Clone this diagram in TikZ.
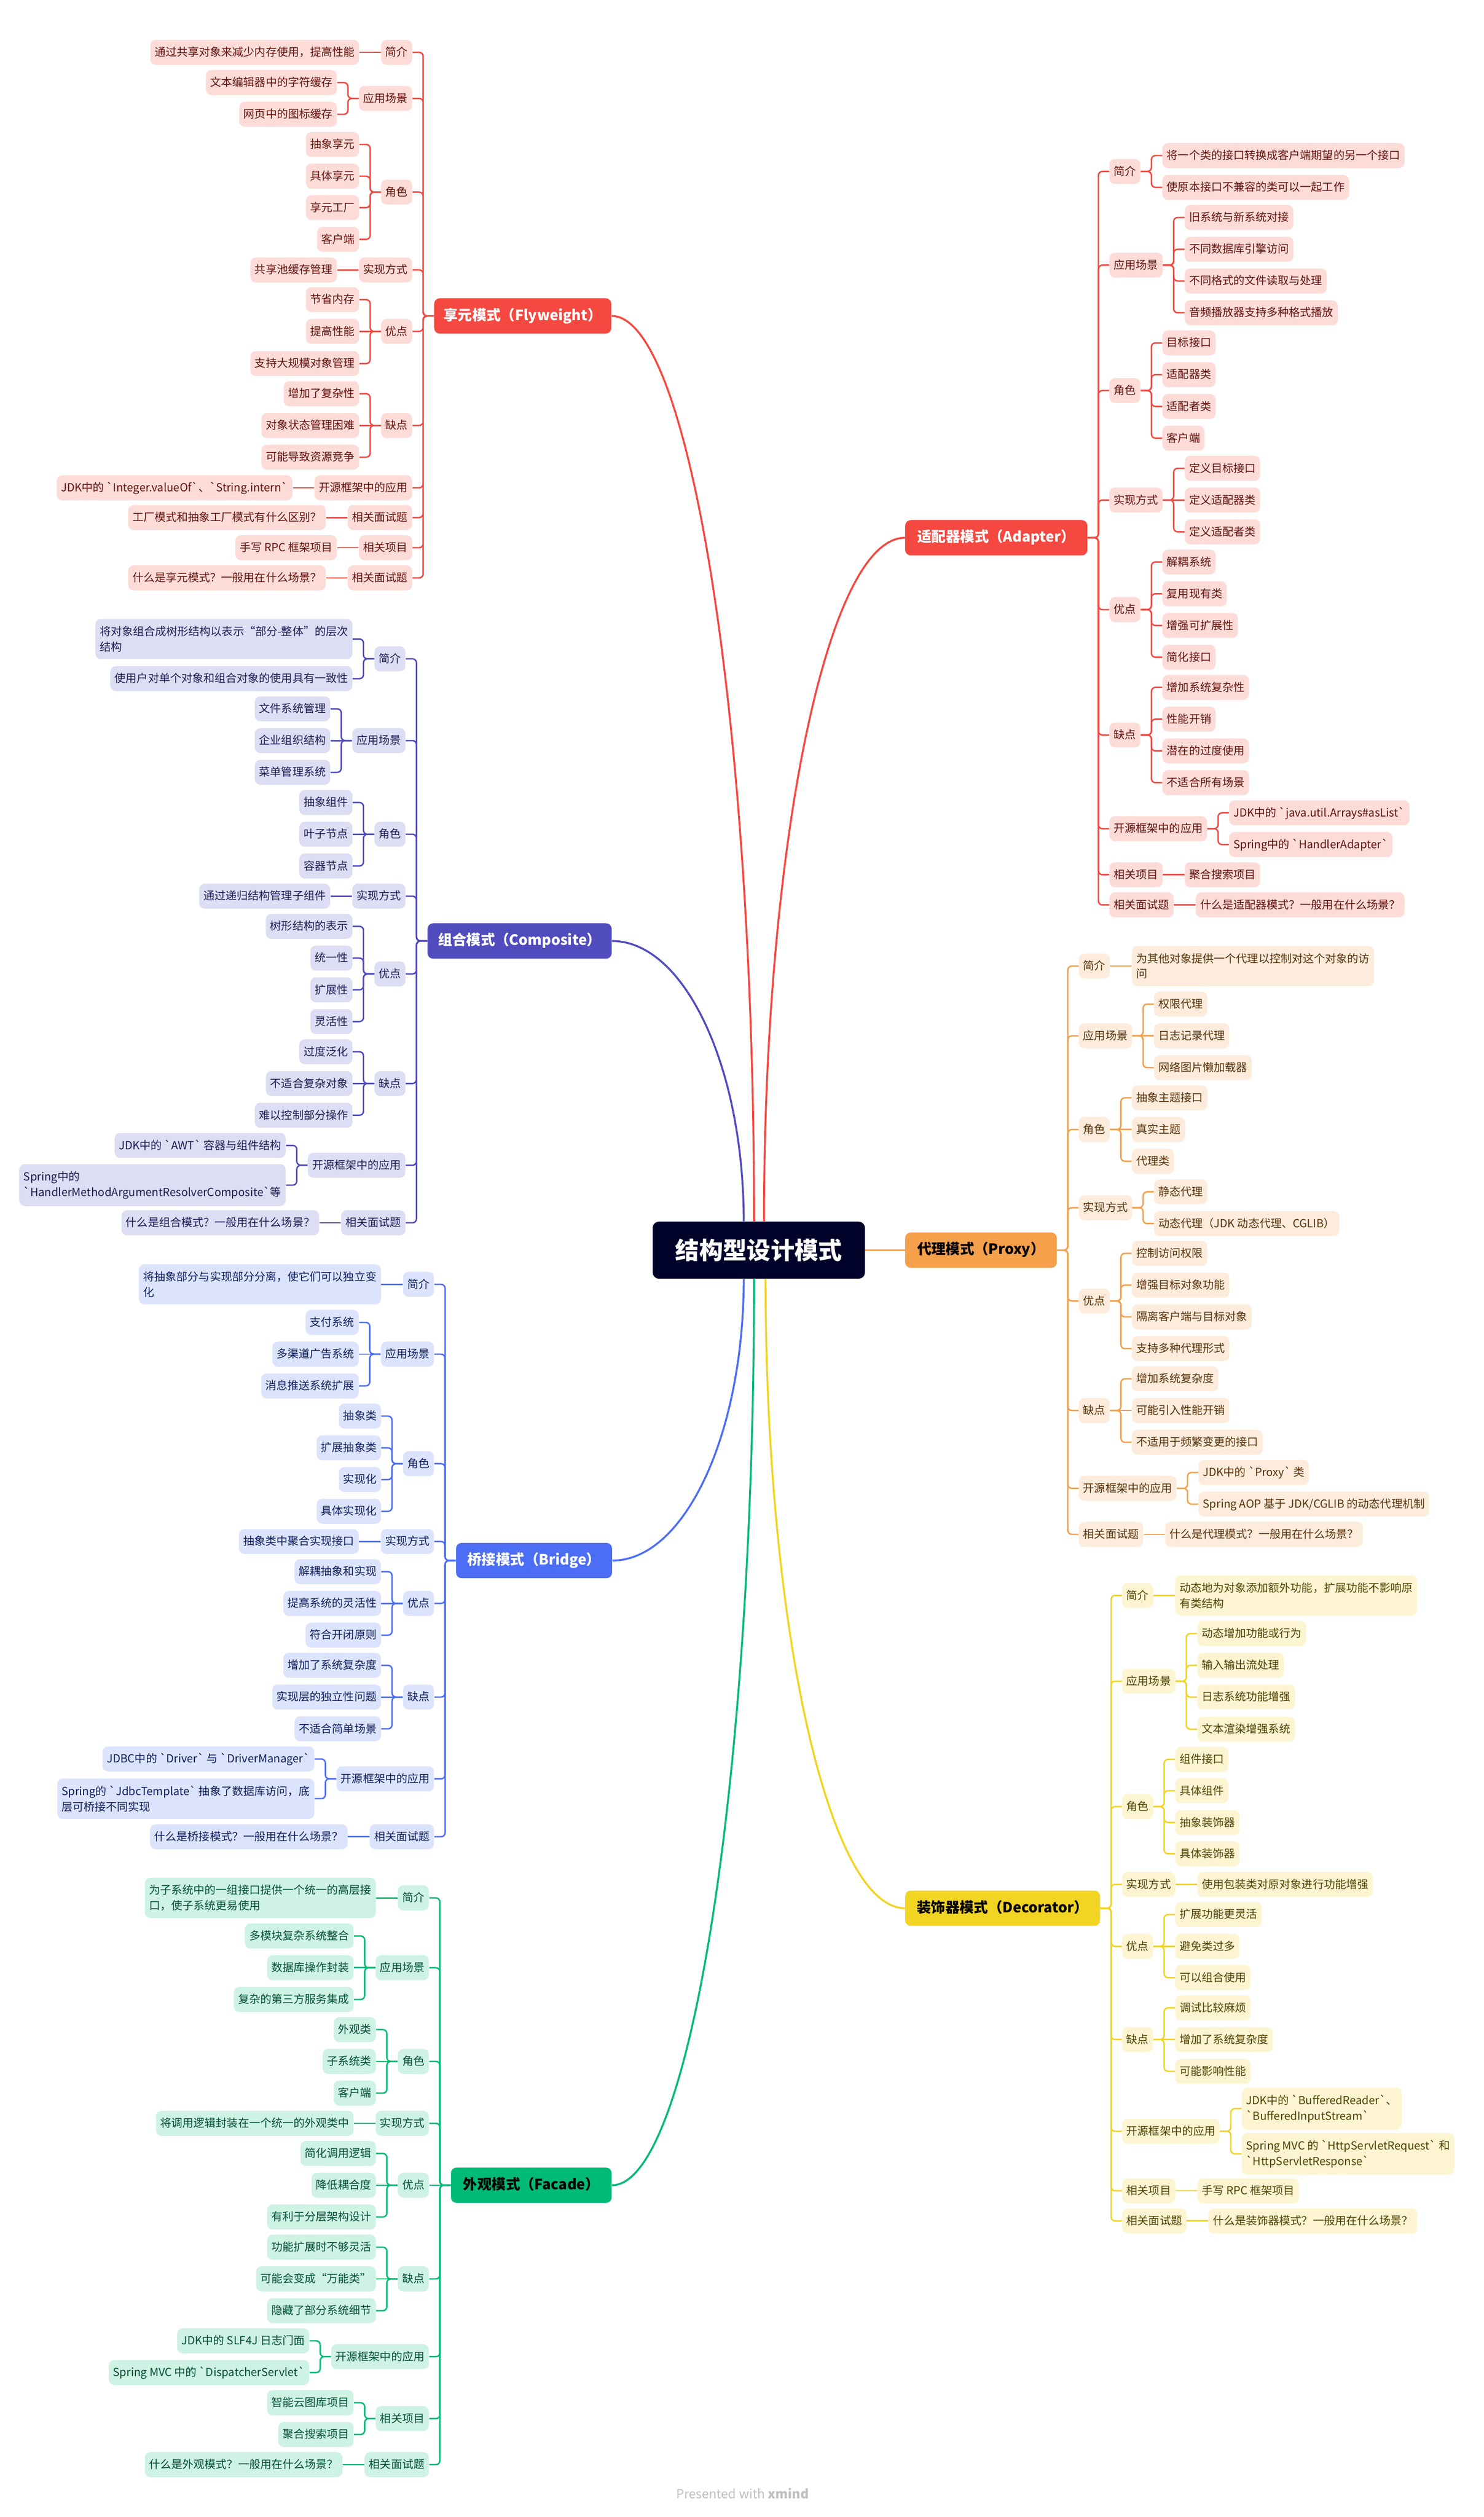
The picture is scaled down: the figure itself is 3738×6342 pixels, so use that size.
\documentclass[tikz,border=0pt]{standalone}
\usepackage{fontspec}
\setmainfont{Noto Sans CJK SC}[Ligatures=TeXOff]
\usetikzlibrary{calc}

\definecolor{rootbg}{RGB}{0,2,42}
\definecolor{redln}{RGB}{245,72,64}
\definecolor{redbg}{RGB}{253,220,216}
\definecolor{redtx}{RGB}{100,18,12}
\definecolor{purln}{RGB}{80,76,190}
\definecolor{purbg}{RGB}{221,221,244}
\definecolor{purtx}{RGB}{30,28,85}
\definecolor{bluln}{RGB}{76,110,245}
\definecolor{blubg}{RGB}{220,228,253}
\definecolor{blutx}{RGB}{15,30,95}
\definecolor{grnln}{RGB}{0,186,117}
\definecolor{grnbg}{RGB}{206,242,228}
\definecolor{grntx}{RGB}{0,80,50}
\definecolor{orgln}{RGB}{245,160,75}
\definecolor{orgbg}{RGB}{253,236,220}
\definecolor{orgtx}{RGB}{90,50,10}
\definecolor{yelln}{RGB}{242,212,34}
\definecolor{yelbg}{RGB}{253,245,210}
\definecolor{yeltx}{RGB}{80,65,0}
\colorlet{kidbg}{redbg}\colorlet{kidtx}{redtx}\colorlet{kidln}{redln}

\tikzset{
  box/.style={rounded corners=3.5pt, fill=kidbg, text=kidtx,
    font=\fontsize{7}{9.75}\selectfont, minimum height=15.75pt,
    inner xsep=2.75pt, inner ysep=0pt, text height=6.1pt, text depth=1.2pt},
  boxw/.style={box, align=left, text height=, text depth=, inner ysep=4.5pt},
  link/.style={draw=kidln, line width=0.9pt, rounded corners=2.5pt},
  topic/.style={rounded corners=3.5pt, font=\bfseries\fontsize{9}{11}\selectfont,
    minimum height=22.25pt, inner xsep=6pt, text height=7pt, text depth=1.6pt},
  rootbox/.style={rounded corners=4pt, fill=rootbg, text=white,
    font=\bfseries\fontsize{15}{18}\selectfont, minimum width=133.75pt,
    minimum height=36pt},
  trunk/.style={line width=1.2pt},
}

% child to the left / right of its parent
\newcommand\lkid[5][box]{%
  \coordinate (yy) at (0,#4);
  \path (#2.west) ++(-54,0) coordinate (xx);
  \node[#1,anchor=east] (#3) at (xx |- yy) {#5};
  \draw[link] (#2.west) -- ++(-27,0) |- (#3.east);}
\newcommand\rkid[5][box]{%
  \coordinate (yy) at (0,#4);
  \path (#2.east) ++(54,0) coordinate (xx);
  \node[#1,anchor=west] (#3) at (xx |- yy) {#5};
  \draw[link] (#2.east) -- ++(27,0) |- (#3.west);}
% child on the same level as its parent
\newcommand\lsame[4][box]{%
  \node[#1,anchor=east] (#3) at ([xshift=-13.5pt]#2.west) {#4};
  \draw[link] (#2.west) -- (#3.east);}
\newcommand\rsame[4][box]{%
  \node[#1,anchor=west] (#3) at ([xshift=13.5pt]#2.east) {#4};
  \draw[link] (#2.east) -- (#3.west);}
% curve from the root to a topic
\newcommand\mcurve[3]{%
  \draw[trunk,draw=#3] (#1) .. controls ($(#1)!0.55!(#1 |- #2)$)
    and ($(#2)!0.55!(#1 |- #2)$) .. (#2);}

\begin{document}
\begin{tikzpicture}[x=0.25pt,y=-0.25pt]
\fill[white] (0,0) rectangle (3738,6342);
\useasboundingbox (0,0) rectangle (3738,6342);

\node[rootbox] (root) at (1912,3150) {结构型设计模式};
\path (root.north) ++(-38,0) coordinate (sCp) ++(26,0) coordinate (sFw) ++(25,0) coordinate (sAd);
\path (root.south) ++(-38,0) coordinate (sBr) ++(26,0) coordinate (sFc) ++(29,0) coordinate (sDc);

% Flyweight
\begin{scope}
\colorlet{kidbg}{redbg}\colorlet{kidtx}{redtx}\colorlet{kidln}{redln}
\node[topic,fill=redln,text=white,minimum width=111.25pt,anchor=east] (fw) at (1541,796) {享元模式（Flyweight）};
\lkid{fw}{fw1}{132}{简介}
\lsame{fw1}{fw11}{通过共享对象来减少内存使用，提高性能}
\lkid{fw}{fw2}{248}{应用场景}
\lkid{fw2}{fw21}{208}{文本编辑器中的字符缓存}
\lkid{fw2}{fw22}{288}{网页中的图标缓存}
\lkid{fw}{fw3}{484}{角色}
\lkid{fw3}{fw31}{364}{抽象享元}
\lkid{fw3}{fw32}{444}{具体享元}
\lkid{fw3}{fw33}{523}{享元工厂}
\lkid{fw3}{fw34}{603}{客户端}
\lkid{fw}{fw4}{680}{实现方式}
\lsame{fw4}{fw41}{共享池缓存管理}
\lkid{fw}{fw5}{835}{优点}
\lkid{fw5}{fw51}{755}{节省内存}
\lsame{fw5}{fw52}{提高性能}
\lkid{fw5}{fw53}{916}{支持大规模对象管理}
\lkid{fw}{fw6}{1072}{缺点}
\lkid{fw6}{fw61}{992}{增加了复杂性}
\lsame{fw6}{fw62}{对象状态管理困难}
\lkid{fw6}{fw63}{1152}{可能导致资源竞争}
\lkid{fw}{fw7}{1229}{开源框架中的应用}
\lsame{fw7}{fw71}{JDK中的 `Integer.valueOf`、`String.intern`}
\lkid{fw}{fw8}{1304}{相关面试题}
\lsame{fw8}{fw81}{工厂模式和抽象工厂模式有什么区别？}
\lkid{fw}{fw9}{1380}{相关项目}
\lsame{fw9}{fw91}{手写 RPC 框架项目}
\lkid{fw}{fw10}{1456}{相关面试题}
\lsame{fw10}{fw101}{什么是享元模式？一般用在什么场景？}
\end{scope}

% Composite
\begin{scope}
\colorlet{kidbg}{purbg}\colorlet{kidtx}{purtx}\colorlet{kidln}{purln}
\node[topic,fill=purln,text=white,minimum width=116pt,anchor=east] (cp) at (1542,2371) {组合模式（Composite）};
\lkid{cp}{cp1}{1660}{简介}
\lkid[boxw]{cp1}{cp11}{1610}{将对象组合成树形结构以表示“部分-整体”的层次\\结构}
\lkid{cp1}{cp12}{1710}{使用户对单个对象和组合对象的使用具有一致性}
\lkid{cp}{cp2}{1866}{应用场景}
\lkid{cp2}{cp21}{1786}{文件系统管理}
\lsame{cp2}{cp22}{企业组织结构}
\lkid{cp2}{cp23}{1946}{菜单管理系统}
\lkid{cp}{cp3}{2102}{角色}
\lkid{cp3}{cp31}{2022}{抽象组件}
\lsame{cp3}{cp32}{叶子节点}
\lkid{cp3}{cp33}{2182}{容器节点}
\lkid{cp}{cp4}{2258}{实现方式}
\lsame{cp4}{cp41}{通过递归结构管理子组件}
\lkid{cp}{cp5}{2454}{优点}
\lkid{cp5}{cp51}{2334}{树形结构的表示}
\lkid{cp5}{cp52}{2414}{统一性}
\lkid{cp5}{cp53}{2494}{扩展性}
\lkid{cp5}{cp54}{2574}{灵活性}
\lkid{cp}{cp6}{2730}{缺点}
\lkid{cp6}{cp61}{2650}{过度泛化}
\lsame{cp6}{cp62}{不适合复杂对象}
\lkid{cp6}{cp63}{2810}{难以控制部分操作}
\lkid{cp}{cp7}{2936}{开源框架中的应用}
\lkid{cp7}{cp71}{2886}{JDK中的 `AWT` 容器与组件结构}
\lkid[boxw]{cp7}{cp72}{2986}{Spring中的\\`HandlerMethodArgumentResolverComposite`等}
\lkid{cp}{cp8}{3081}{相关面试题}
\lsame{cp8}{cp81}{什么是组合模式？一般用在什么场景？}
\end{scope}

% Bridge
\begin{scope}
\colorlet{kidbg}{blubg}\colorlet{kidtx}{blutx}\colorlet{kidln}{bluln}
\node[topic,fill=bluln,text=white,minimum width=98.25pt,anchor=east] (br) at (1543,3932) {桥接模式（Bridge）};
\lkid{br}{br1}{3236}{简介}
\lsame[boxw]{br1}{br11}{将抽象部分与实现部分分离，使它们可以独立变\\化}
\lkid{br}{br2}{3412}{应用场景}
\lkid{br2}{br21}{3332}{支付系统}
\lsame{br2}{br22}{多渠道广告系统}
\lkid{br2}{br23}{3492}{消息推送系统扩展}
\lkid{br}{br3}{3688}{角色}
\lkid{br3}{br31}{3568}{抽象类}
\lkid{br3}{br32}{3648}{扩展抽象类}
\lkid{br3}{br33}{3728}{实现化}
\lkid{br3}{br34}{3808}{具体实现化}
\lkid{br}{br4}{3884}{实现方式}
\lsame{br4}{br41}{抽象类中聚合实现接口}
\lkid{br}{br5}{4040}{优点}
\lkid{br5}{br51}{3960}{解耦抽象和实现}
\lsame{br5}{br52}{提高系统的灵活性}
\lkid{br5}{br53}{4120}{符合开闭原则}
\lkid{br}{br6}{4276}{缺点}
\lkid{br6}{br61}{4196}{增加了系统复杂度}
\lsame{br6}{br62}{实现层的独立性问题}
\lkid{br6}{br63}{4356}{不适合简单场景}
\lkid{br}{br7}{4482}{开源框架中的应用}
\lkid{br7}{br71}{4432}{JDBC中的 `Driver` 与 `DriverManager`}
\lkid[boxw]{br7}{br72}{4532}{Spring的 `JdbcTemplate` 抽象了数据库访问，底\\层可桥接不同实现}
\lkid{br}{br8}{4628}{相关面试题}
\lsame{br8}{br81}{什么是桥接模式？一般用在什么场景？}
\end{scope}

% Facade
\begin{scope}
\colorlet{kidbg}{grnbg}\colorlet{kidtx}{grntx}\colorlet{kidln}{grnln}
\node[topic,fill=grnln,text=black,minimum width=101.25pt,anchor=east] (fc) at (1542,5506) {外观模式（Facade）};
\lkid{fc}{fc1}{4782}{简介}
\lsame[boxw]{fc1}{fc11}{为子系统中的一组接口提供一个统一的高层接\\口，使子系统更易使用}
\lkid{fc}{fc2}{4958}{应用场景}
\lkid{fc2}{fc21}{4878}{多模块复杂系统整合}
\lsame{fc2}{fc22}{数据库操作封装}
\lkid{fc2}{fc23}{5038}{复杂的第三方服务集成}
\lkid{fc}{fc3}{5194}{角色}
\lkid{fc3}{fc31}{5114}{外观类}
\lsame{fc3}{fc32}{子系统类}
\lkid{fc3}{fc33}{5274}{客户端}
\lkid{fc}{fc4}{5350}{实现方式}
\lsame{fc4}{fc41}{将调用逻辑封装在一个统一的外观类中}
\lsame{fc}{fc5}{优点}
\lkid{fc5}{fc51}{5426}{简化调用逻辑}
\lsame{fc5}{fc52}{降低耦合度}
\lkid{fc5}{fc53}{5586}{有利于分层架构设计}
\lkid{fc}{fc6}{5742}{缺点}
\lkid{fc6}{fc61}{5662}{功能扩展时不够灵活}
\lsame{fc6}{fc62}{可能会变成“万能类”}
\lkid{fc6}{fc63}{5822}{隐藏了部分系统细节}
\lkid{fc}{fc7}{5938}{开源框架中的应用}
\lkid{fc7}{fc71}{5898}{JDK中的 SLF4J 日志门面}
\lkid{fc7}{fc72}{5978}{Spring MVC 中的 `DispatcherServlet`}
\lkid{fc}{fc8}{6094}{相关项目}
\lkid{fc8}{fc81}{6054}{智能云图库项目}
\lkid{fc8}{fc82}{6134}{聚合搜索项目}
\lkid{fc}{fc9}{6210}{相关面试题}
\lsame{fc9}{fc91}{什么是外观模式？一般用在什么场景？}
\end{scope}

% Adapter
\begin{scope}
\colorlet{kidbg}{redbg}\colorlet{kidtx}{redtx}\colorlet{kidln}{redln}
\node[topic,fill=redln,text=white,minimum width=114.75pt,anchor=west] (ad) at (2280,1355) {适配器模式（Adapter）};
\rkid{ad}{ad1}{432}{简介}
\rkid{ad1}{ad11}{392}{将一个类的接口转换成客户端期望的另一个接口}
\rkid{ad1}{ad12}{472}{使原本接口不兼容的类可以一起工作}
\rkid{ad}{ad2}{668}{应用场景}
\rkid{ad2}{ad21}{548}{旧系统与新系统对接}
\rkid{ad2}{ad22}{628}{不同数据库引擎访问}
\rkid{ad2}{ad23}{708}{不同格式的文件读取与处理}
\rkid{ad2}{ad24}{788}{音频播放器支持多种格式播放}
\rkid{ad}{ad3}{984}{角色}
\rkid{ad3}{ad31}{864}{目标接口}
\rkid{ad3}{ad32}{944}{适配器类}
\rkid{ad3}{ad33}{1024}{适配者类}
\rkid{ad3}{ad34}{1104}{客户端}
\rkid{ad}{ad4}{1260}{实现方式}
\rkid{ad4}{ad41}{1180}{定义目标接口}
\rsame{ad4}{ad42}{定义适配器类}
\rkid{ad4}{ad43}{1340}{定义适配者类}
\rkid{ad}{ad5}{1536}{优点}
\rkid{ad5}{ad51}{1416}{解耦系统}
\rkid{ad5}{ad52}{1496}{复用现有类}
\rkid{ad5}{ad53}{1576}{增强可扩展性}
\rkid{ad5}{ad54}{1656}{简化接口}
\rkid{ad}{ad6}{1852}{缺点}
\rkid{ad6}{ad61}{1732}{增加系统复杂性}
\rkid{ad6}{ad62}{1812}{性能开销}
\rkid{ad6}{ad63}{1892}{潜在的过度使用}
\rkid{ad6}{ad64}{1972}{不适合所有场景}
\rkid{ad}{ad7}{2088}{开源框架中的应用}
\rkid{ad7}{ad71}{2048}{JDK中的 `java.util.Arrays\#asList`}
\rkid{ad7}{ad72}{2128}{Spring中的 `HandlerAdapter`}
\rkid{ad}{ad8}{2204}{相关项目}
\rsame{ad8}{ad81}{聚合搜索项目}
\rkid{ad}{ad9}{2280}{相关面试题}
\rsame{ad9}{ad91}{什么是适配器模式？一般用在什么场景？}
\end{scope}

% Proxy
\begin{scope}
\colorlet{kidbg}{orgbg}\colorlet{kidtx}{orgtx}\colorlet{kidln}{orgln}
\node[topic,fill=orgln,text=black,minimum width=95.5pt,anchor=west] (px) at (2280,3150) {代理模式（Proxy）};
\rkid{px}{px1}{2434}{简介}
\rsame[boxw]{px1}{px11}{为其他对象提供一个代理以控制对这个对象的访\\问}
\rkid{px}{px2}{2610}{应用场景}
\rkid{px2}{px21}{2530}{权限代理}
\rsame{px2}{px22}{日志记录代理}
\rkid{px2}{px23}{2690}{网络图片懒加载器}
\rkid{px}{px3}{2846}{角色}
\rkid{px3}{px31}{2766}{抽象主题接口}
\rsame{px3}{px32}{真实主题}
\rkid{px3}{px33}{2926}{代理类}
\rkid{px}{px4}{3043}{实现方式}
\rkid{px4}{px41}{3003}{静态代理}
\rkid{px4}{px42}{3083}{动态代理（JDK 动态代理、CGLIB）}
\rkid{px}{px5}{3278}{优点}
\rkid{px5}{px51}{3158}{控制访问权限}
\rkid{px5}{px52}{3238}{增强目标对象功能}
\rkid{px5}{px53}{3318}{隔离客户端与目标对象}
\rkid{px5}{px54}{3398}{支持多种代理形式}
\rkid{px}{px6}{3554}{缺点}
\rkid{px6}{px61}{3474}{增加系统复杂度}
\rsame{px6}{px62}{可能引入性能开销}
\rkid{px6}{px63}{3634}{不适用于频繁变更的接口}
\rkid{px}{px7}{3750}{开源框架中的应用}
\rkid{px7}{px71}{3710}{JDK中的 `Proxy` 类}
\rkid{px7}{px72}{3790}{Spring AOP 基于 JDK/CGLIB 的动态代理机制}
\rkid{px}{px8}{3866}{相关面试题}
\rsame{px8}{px81}{什么是代理模式？一般用在什么场景？}
\end{scope}

% Decorator
\begin{scope}
\colorlet{kidbg}{yelbg}\colorlet{kidtx}{yeltx}\colorlet{kidln}{yelln}
\node[topic,fill=yelln,text=black,minimum width=122.75pt,anchor=west] (dc) at (2280,4808) {装饰器模式（Decorator）};
\rkid{dc}{dc1}{4020}{简介}
\rsame[boxw]{dc1}{dc11}{动态地为对象添加额外功能，扩展功能不影响原\\有类结构}
\rkid{dc}{dc2}{4236}{应用场景}
\rkid{dc2}{dc21}{4116}{动态增加功能或行为}
\rkid{dc2}{dc22}{4196}{输入输出流处理}
\rkid{dc2}{dc23}{4276}{日志系统功能增强}
\rkid{dc2}{dc24}{4357}{文本渲染增强系统}
\rkid{dc}{dc3}{4552}{角色}
\rkid{dc3}{dc31}{4433}{组件接口}
\rkid{dc3}{dc32}{4512}{具体组件}
\rkid{dc3}{dc33}{4592}{抽象装饰器}
\rkid{dc3}{dc34}{4671}{具体装饰器}
\rkid{dc}{dc4}{4748}{实现方式}
\rsame{dc4}{dc41}{使用包装类对原对象进行功能增强}
\rkid{dc}{dc5}{4904}{优点}
\rkid{dc5}{dc51}{4824}{扩展功能更灵活}
\rsame{dc5}{dc52}{避免类过多}
\rkid{dc5}{dc53}{4983}{可以组合使用}
\rkid{dc}{dc6}{5139}{缺点}
\rkid{dc6}{dc61}{5059}{调试比较麻烦}
\rsame{dc6}{dc62}{增加了系统复杂度}
\rkid{dc6}{dc63}{5219}{可能影响性能}
\rkid{dc}{dc7}{5370}{开源框架中的应用}
\rkid[boxw]{dc7}{dc71}{5313}{JDK中的 `BufferedReader`、\\`BufferedInputStream`}
\rkid[boxw]{dc7}{dc72}{5427}{Spring MVC 的 `HttpServletRequest` 和\\`HttpServletResponse`}
\rkid{dc}{dc8}{5520}{相关项目}
\rsame{dc8}{dc81}{手写 RPC 框架项目}
\rkid{dc}{dc9}{5596}{相关面试题}
\rsame{dc9}{dc91}{什么是装饰器模式？一般用在什么场景？}
\end{scope}

% root to topics
\mcurve{sFw}{fw.east}{redln}
\mcurve{sCp}{cp.east}{purln}
\mcurve{sAd}{ad.west}{redln}
\mcurve{sBr}{br.east}{bluln}
\mcurve{sFc}{fc.east}{grnln}
\mcurve{sDc}{dc.west}{yelln}
\draw[trunk,draw=orgln] (root.east) -- (px.west);

\node[text=black!25, font=\fontsize{8}{10}\selectfont] (mark) at (1871,6282) {Presented with \textbf{xmind}};
\end{tikzpicture}
\end{document}
